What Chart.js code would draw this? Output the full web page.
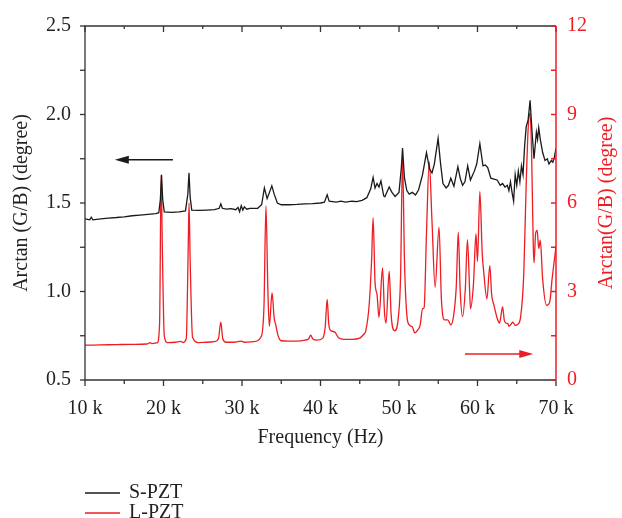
<!DOCTYPE html>
<html>
<head>
<meta charset="utf-8">
<script src="https://cdn.jsdelivr.net/npm/chart.js@4.4.0/dist/chart.umd.min.js"></script>
<style>
  html, body { margin: 0; padding: 0; background: #fff; }
</style>
</head>
<body>
<canvas id="chart" width="622" height="518"></canvas>
<script>
// frequency in kHz
const sFreq = [10.0, 10.6, 10.8, 11.0, 12.0, 13.0, 14.0, 15.0, 16.0, 17.0, 18.0, 19.0, 19.4, 19.6, 19.75, 19.9, 20.1, 21.0, 22.0, 22.8,
  23.1, 23.25, 23.4, 23.6, 24.5, 25.5, 26.5, 27.1, 27.3, 27.5, 28.0, 28.6, 29.2, 29.5, 29.7, 29.9, 30.1, 30.3, 30.6, 31.0,
  32.0, 32.5, 32.85, 33.2, 33.5, 33.8, 34.1, 34.5, 35.0, 36.0, 37.0, 38.0, 39.0, 40.0, 40.5, 40.85, 41.1, 42.0, 42.6, 43.2,
  44.0, 44.6, 45.3, 45.9, 46.4, 46.7, 46.95, 47.2, 47.45, 47.7, 48.05, 48.2, 48.75, 49.1, 49.5, 50.0, 50.3, 50.45, 50.7, 51.0,
  51.3, 51.7, 52.1, 52.5, 53.0, 53.5, 53.9, 54.2, 54.5, 54.98, 55.3, 55.6, 56.0, 56.3, 56.6, 57.0, 57.5, 57.8, 58.1, 58.4,
  58.75, 59.1, 59.6, 59.9, 60.3, 60.7, 61.0, 61.3, 61.7, 62.1, 62.5, 62.9, 63.2, 63.5, 63.8, 64.0, 64.2, 64.4, 64.6, 64.8,
  65.0, 65.2, 65.4, 65.6, 65.8, 66.0, 66.2, 66.45, 66.7, 66.95, 67.2, 67.5, 67.65, 67.8, 68.0, 68.3, 68.6, 68.9, 69.1, 69.4,
  69.6, 69.8, 70.0];
const sVal = [1.41, 1.405, 1.42, 1.405, 1.41, 1.415, 1.418, 1.422, 1.428, 1.432, 1.436, 1.44, 1.445, 1.52, 1.66, 1.52, 1.45, 1.447, 1.45, 1.455,
  1.55, 1.67, 1.53, 1.46, 1.458, 1.46, 1.462, 1.47, 1.495, 1.47, 1.465, 1.468, 1.462, 1.475, 1.45, 1.485, 1.46, 1.478, 1.465, 1.47,
  1.47, 1.49, 1.585, 1.525, 1.56, 1.597, 1.55, 1.50, 1.49, 1.49, 1.492, 1.495, 1.497, 1.50, 1.505, 1.547, 1.51, 1.505, 1.51, 1.505,
  1.51, 1.508, 1.515, 1.53, 1.58, 1.645, 1.585, 1.61, 1.59, 1.625, 1.54, 1.535, 1.59, 1.56, 1.537, 1.56, 1.70, 1.81, 1.64, 1.57,
  1.55, 1.56, 1.545, 1.575, 1.66, 1.785, 1.69, 1.67, 1.72, 1.865, 1.72, 1.61, 1.585, 1.60, 1.64, 1.595, 1.705, 1.64, 1.60, 1.62,
  1.71, 1.63, 1.68, 1.72, 1.835, 1.71, 1.715, 1.70, 1.64, 1.635, 1.63, 1.60, 1.61, 1.59, 1.60, 1.57, 1.62, 1.56, 1.51, 1.66,
  1.60, 1.68, 1.62, 1.71, 1.66, 1.82, 1.93, 1.97, 2.08, 1.90, 1.75, 1.90, 1.86, 1.925, 1.86, 1.785, 1.74, 1.75, 1.72, 1.74,
  1.73, 1.76, 1.81];

const lFreq = [10.0, 12.0, 14.0, 16.0, 17.9, 18.3, 18.5, 19.2, 19.5, 19.7, 19.85, 20.1, 20.5, 21.5, 22.2, 22.5, 22.9, 23.15, 23.25, 23.4,
  23.7, 24.5, 25.5, 26.5, 27.0, 27.3, 27.55, 28.0, 29.0, 29.9, 30.3, 31.5, 32.4, 32.8, 33.05, 33.3, 33.48, 33.83, 34.1, 34.3,
  34.6, 35.0, 36.0, 37.0, 38.0, 38.5, 38.75, 39.0, 39.5, 40.3, 40.6, 40.85, 41.05, 41.3, 41.8, 42.3, 43.0, 44.0, 45.0, 45.5,
  45.75, 46.2, 46.5, 46.7, 46.95, 47.2, 47.45, 47.9, 48.15, 48.35, 48.75, 49.0, 49.45, 49.9, 50.2, 50.45, 50.7, 51.0, 51.3, 51.7,
  52.0, 52.4, 52.7, 53.0, 53.2, 53.5, 53.85, 54.2, 54.6, 55.1, 55.4, 55.8, 56.2, 56.6, 57.0, 57.3, 57.55, 57.8, 58.1, 58.45,
  58.72, 59.0, 59.1, 59.5, 59.8, 60.0, 60.3, 60.6, 60.8, 61.2, 61.57, 61.8, 62.1, 62.5, 62.8, 63.0, 63.2, 63.4, 63.6, 63.9,
  64.0, 64.3, 64.5, 64.8, 65.1, 65.5, 65.9, 66.2, 66.45, 66.7, 66.9, 67.1, 67.2, 67.4, 67.6, 67.8, 68.0, 68.3, 68.8, 69.2,
  69.5, 70.0];
const lVal = [1.18, 1.19, 1.20, 1.21, 1.22, 1.27, 1.23, 1.26, 1.9, 6.95, 4.5, 1.5, 1.27, 1.28, 1.31, 1.27, 1.4, 4.5, 6.0, 4.0,
  1.45, 1.27, 1.28, 1.30, 1.4, 1.96, 1.4, 1.28, 1.28, 1.32, 1.28, 1.30, 1.45, 2.5, 5.9, 3.0, 1.82, 2.95, 2.1, 1.87,
  1.5, 1.33, 1.32, 1.32, 1.35, 1.40, 1.52, 1.4, 1.35, 1.42, 1.8, 2.73, 1.9, 1.68, 1.63, 1.43, 1.38, 1.38, 1.42, 1.55,
  1.65, 2.55, 4.0, 5.5, 3.3, 2.9, 2.12, 3.8, 2.3, 1.93, 3.69, 2.2, 1.67, 2.09, 3.5, 7.5, 4.0, 2.2, 1.87, 1.80,
  1.60, 1.70, 1.87, 2.42, 2.45, 4.96, 7.4, 5.4, 3.14, 5.18, 2.75, 2.04, 2.04, 1.87, 2.26, 3.2, 5.01, 3.0, 2.15, 3.1,
  4.76, 3.0, 2.42, 3.31, 4.96, 4.02, 6.39, 4.3, 3.64, 2.75, 3.88, 2.9, 2.53, 2.1, 1.93, 2.2, 2.48, 2.05, 1.93, 1.90,
  1.82, 1.9, 1.96, 1.85, 1.88, 2.15, 3.64, 6.61, 8.5, 9.05, 7.6, 4.6, 3.97, 4.96, 5.07, 4.46, 4.74, 3.42, 2.53, 2.64,
  3.42, 4.52];

const xTicks = [10, 20, 30, 40, 50, 60, 70];
const leftTicks = [0.5, 1.0, 1.5, 2.0, 2.5];
const rightTicks = [0, 3, 6, 9, 12];
const rightTitle = "Arctan(G/B) (degree)";

const BLACK = "#1a1a1a";
const RED = "#ee1d23";
const TEXT = "#231f20";
const FONT = "'Liberation Serif', 'DejaVu Serif', serif";

// axis frame, tick marks, right title, arrows and legend
const framePlugin = {
  id: "frame",
  afterDraw(chart) {
    const { ctx, chartArea, scales } = chart;
    const { left, right, top, bottom } = chartArea;
    const x = scales.x, y = scales.y, y1 = scales.y1;
    ctx.save();
    ctx.lineWidth = 1.3;
    ctx.strokeStyle = "#333";
    ctx.beginPath();
    ctx.moveTo(right, top); ctx.lineTo(left, top); ctx.lineTo(left, bottom); ctx.lineTo(right, bottom);
    ctx.stroke();

    for (let v = xTicks[0]; v <= xTicks[xTicks.length - 1]; v += 5) {
      const px = x.getPixelForValue(v);
      const major = xTicks.includes(v);
      ctx.beginPath();
      ctx.moveTo(px, bottom); ctx.lineTo(px, bottom + (major ? 6 : 4));
      ctx.moveTo(px, top); ctx.lineTo(px, top + (major ? 6 : 3));
      ctx.stroke();
    }
    for (let v = leftTicks[0]; v <= leftTicks[leftTicks.length - 1] + 1e-9; v += 0.25) {
      const py = y.getPixelForValue(v);
      ctx.beginPath(); ctx.moveTo(left - 5, py); ctx.lineTo(left, py); ctx.stroke();
    }

    ctx.strokeStyle = RED;
    ctx.lineWidth = 1.5;
    ctx.beginPath(); ctx.moveTo(right, top); ctx.lineTo(right, bottom); ctx.stroke();
    for (let v = rightTicks[0]; v <= rightTicks[rightTicks.length - 1]; v += 1.5) {
      const py = y1.getPixelForValue(v);
      ctx.beginPath(); ctx.moveTo(right - 5, py); ctx.lineTo(right, py); ctx.stroke();
    }

    // right title reads bottom to top, like the left one
    ctx.save();
    ctx.translate(607, (top + bottom) / 2);
    ctx.rotate(-Math.PI / 2);
    ctx.font = "20px " + FONT;
    ctx.fillStyle = RED;
    ctx.textAlign = "center";
    ctx.textBaseline = "middle";
    ctx.fillText(rightTitle, 0, 0);
    ctx.restore();

    // arrows pointing to each curve's axis
    const arrow = (x0, x1, py, color) => {
      const dir = Math.sign(x1 - x0);
      ctx.strokeStyle = color; ctx.fillStyle = color; ctx.lineWidth = 1.5;
      ctx.beginPath(); ctx.moveTo(x0, py); ctx.lineTo(x1 - dir * 10, py); ctx.stroke();
      ctx.beginPath();
      ctx.moveTo(x1, py); ctx.lineTo(x1 - dir * 14, py - 4); ctx.lineTo(x1 - dir * 14, py + 4);
      ctx.closePath(); ctx.fill();
    };
    arrow(x.getPixelForValue(21.2), x.getPixelForValue(13.8), y.getPixelForValue(1.745), BLACK);
    arrow(x.getPixelForValue(58.4), x.getPixelForValue(67.1), y1.getPixelForValue(0.88), RED);

    // legend, one entry per row
    ctx.font = "20px " + FONT;
    ctx.textAlign = "left";
    ctx.textBaseline = "middle";
    chart.data.datasets.forEach((ds, i) => {
      const ly = 493 + i * 20;
      ctx.strokeStyle = ds.borderColor; ctx.lineWidth = 1.5;
      ctx.beginPath(); ctx.moveTo(85, ly); ctx.lineTo(120, ly); ctx.stroke();
      ctx.fillStyle = TEXT;
      ctx.fillText(ds.label, 129, ly);
    });
    ctx.restore();
  }
};

const toPoints = (xs, ys) => xs.map((f, i) => ({ x: f, y: ys[i] }));

new Chart(document.getElementById("chart").getContext("2d"), {
  type: "line",
  data: {
    datasets: [
      {
        label: "S-PZT",
        data: toPoints(sFreq, sVal),
        borderColor: BLACK,
        borderWidth: 1.3,
        pointRadius: 0,
        tension: 0,
        yAxisID: "y",
      },
      {
        label: "L-PZT",
        data: toPoints(lFreq, lVal),
        borderColor: RED,
        borderWidth: 1.3,
        pointRadius: 0,
        cubicInterpolationMode: "monotone",
        yAxisID: "y1",
      },
    ],
  },
  options: {
    responsive: false,
    animation: false,
    devicePixelRatio: 1,
    layout: { padding: { top: 17, bottom: 68, left: 0, right: 0 } },
    plugins: { legend: { display: false }, tooltip: { enabled: false } },
    scales: {
      x: {
        type: "linear",
        min: 10,
        max: 70,
        afterFit: (s) => { s.height = 70; },
        afterBuildTicks: (s) => { s.ticks = xTicks.map((v) => ({ value: v })); },
        grid: { display: false, drawTicks: false },
        border: { display: false },
        ticks: { padding: 17, color: TEXT, font: { family: FONT, size: 20 }, callback: (v) => v + " k" },
        title: { display: true, text: "Frequency (Hz)", color: TEXT, font: { family: FONT, size: 20 }, padding: { top: 0, bottom: 0 } },
      },
      y: {
        position: "left",
        min: 0.5,
        max: 2.5,
        afterFit: (s) => { s.width = 85; },
        afterBuildTicks: (s) => { s.ticks = leftTicks.map((v) => ({ value: v })); },
        grid: { display: false, drawTicks: false },
        border: { display: false },
        ticks: { padding: 14, color: TEXT, font: { family: FONT, size: 20 }, callback: (v) => v.toFixed(1) },
        title: { display: true, text: "Arctan (G/B) (degree)", color: TEXT, font: { family: FONT, size: 20 }, padding: { top: 10, bottom: 0 } },
      },
      y1: {
        position: "right",
        min: 0,
        max: 12,
        afterFit: (s) => { s.width = 66; },
        afterBuildTicks: (s) => { s.ticks = rightTicks.map((v) => ({ value: v })); },
        grid: { display: false, drawTicks: false },
        border: { display: false },
        ticks: { padding: 11, color: RED, font: { family: FONT, size: 20 } },
        title: { display: false },
      },
    },
  },
  plugins: [framePlugin],
});
</script>
</body>
</html>
